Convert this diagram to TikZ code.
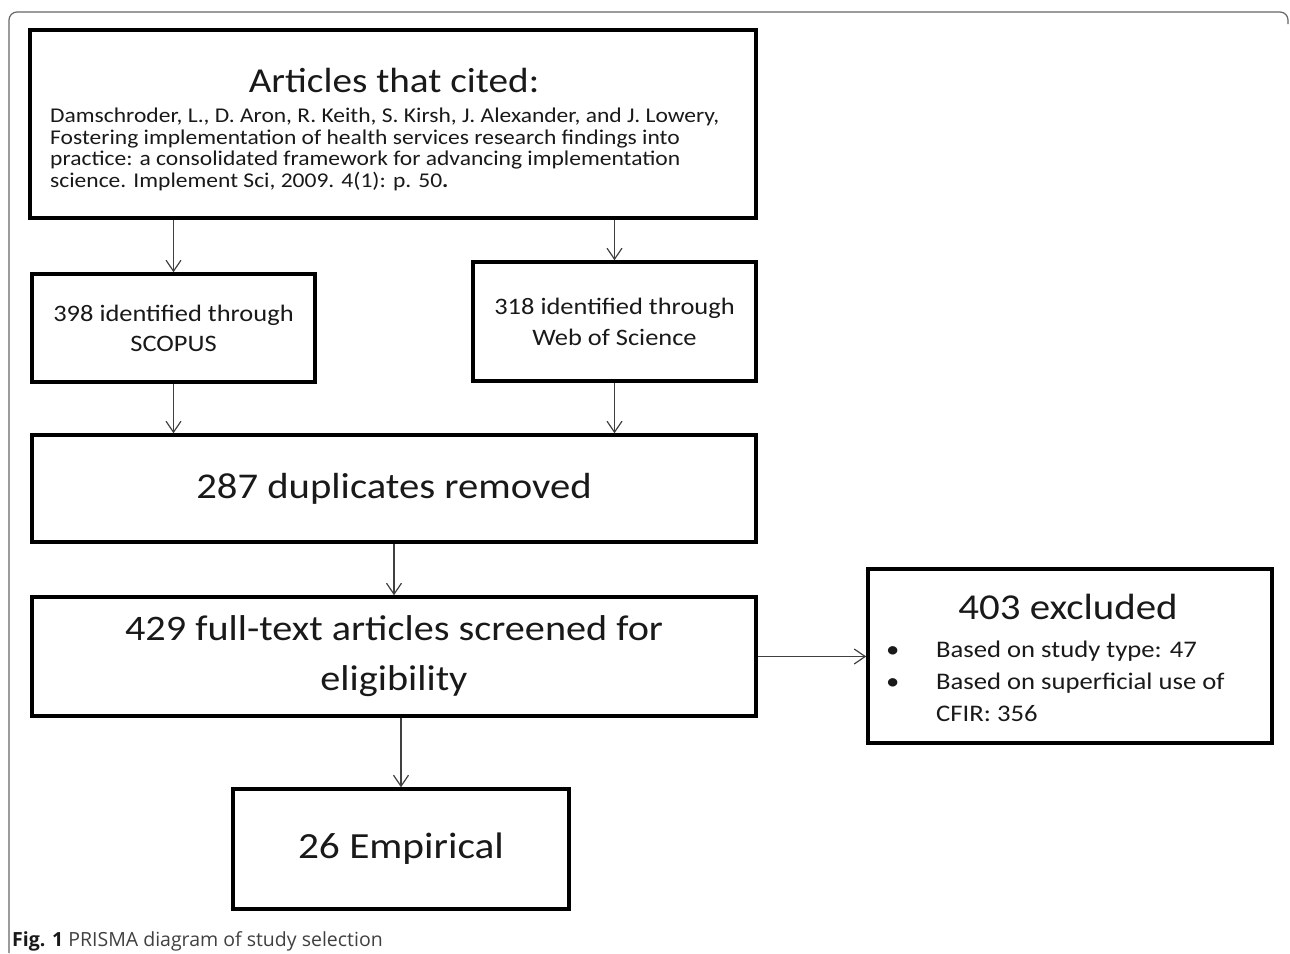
\documentclass[tikz,border=0pt]{standalone}
\usepackage{fontspec}
\setmainfont[FakeStretch=1.12]{Carlito}
\newfontfamily\capfont{Open Sans}
\usetikzlibrary{arrows.meta}
\newcommand{\fsz}[2]{\fontsize{#1}{#2}\selectfont}
\tikzset{
  box/.style={draw=black, line width=3.5pt, fill=white, text=black!90, inner sep=0pt},
  txt/.style={inner sep=0pt, text=black!90},
  link/.style={draw=black!75, line width=1.2pt, -{Straight Barb[length=11pt,width=15pt,line width=1.2pt]}},
}

\begin{document}
\begin{tikzpicture}[x=1pt,y=-1pt]
  \useasboundingbox (0,0) rectangle (1290,953);
  \draw[black!60, line width=1.2pt, rounded corners=8pt] (9,953) -- (9,12) -- (1288,12) -- (1288,24);

  \node[box, minimum width=726pt, minimum height=188pt] (cited) at (393,124) {};
  \node[txt, font=\fsz{35}{38}] (citedhead) at (394,80) {Articles that cited:};
  \node[txt, anchor=north west, align=left, font=\fsz{21}{21.5}] (citedbody) at (50,108)
    {Damschroder, L., D. Aron, R. Keith, S. Kirsh, J. Alexander, and J. Lowery,\\
     Fostering implementation of health services research findings into\\
     practice: a consolidated framework for advancing implementation\\
     science. Implement Sci, 2009. 4(1): p. 50\textbf{.}};

  \node[box, minimum width=283pt, minimum height=108pt, align=center, font=\fsz{23.6}{30}] (scopus) at (173.5,328)
    {398 identified through\\SCOPUS};
  \node[box, minimum width=283pt, minimum height=119pt, align=center, font=\fsz{23.6}{31}] (wos) at (614.5,321.5)
    {318 identified through\\Web of Science};
  \node[box, minimum width=724pt, minimum height=107pt, font=\fsz{36.3}{40}] (dup) at (394,488.5)
    {287 duplicates removed};
  \node[box, minimum width=724pt, minimum height=119pt, align=center, font=\fsz{35.9}{50}] (screen) at (394,656.5)
    {429 full-text articles screened for\\eligibility};

  \node[box, minimum width=404pt, minimum height=174pt] (excl) at (1070,656) {};
  \node[txt, font=\fsz{36.5}{38}] (exclhead) at (1068,607) {403 excluded};
  \node[txt, anchor=north west, align=left, font=\fsz{23.8}{32}] (excllist) at (886,641)
    {\makebox[50pt][l]{\textbullet}Based on study type: 47\\
     \makebox[50pt][l]{\textbullet}Based on superficial use of\\
     \hspace*{50pt}CFIR: 356};

  \node[box, minimum width=336pt, minimum height=120pt, font=\fsz{36.9}{40}] (empir) at (401,849)
    {26 Empirical};

  \draw[link] (cited.south -| scopus) -- (scopus);
  \draw[link] (cited.south -| wos) -- (wos);
  \draw[link] (scopus) -- (scopus |- dup.north);
  \draw[link] (wos) -- (wos |- dup.north);
  \draw[link] (dup) -- (screen);
  \draw[link] (screen.south -| empir) -- (empir);
  \draw[link] (screen.east) -- (screen.east -| excl.west);

  \node[anchor=base west, inner sep=0pt, text=black!75, font=\capfont\fsz{19.5}{22}] (caption) at (12,946)
    {\textbf{\color{black!90}Fig. 1} PRISMA diagram of study selection};
\end{tikzpicture}
\end{document}
